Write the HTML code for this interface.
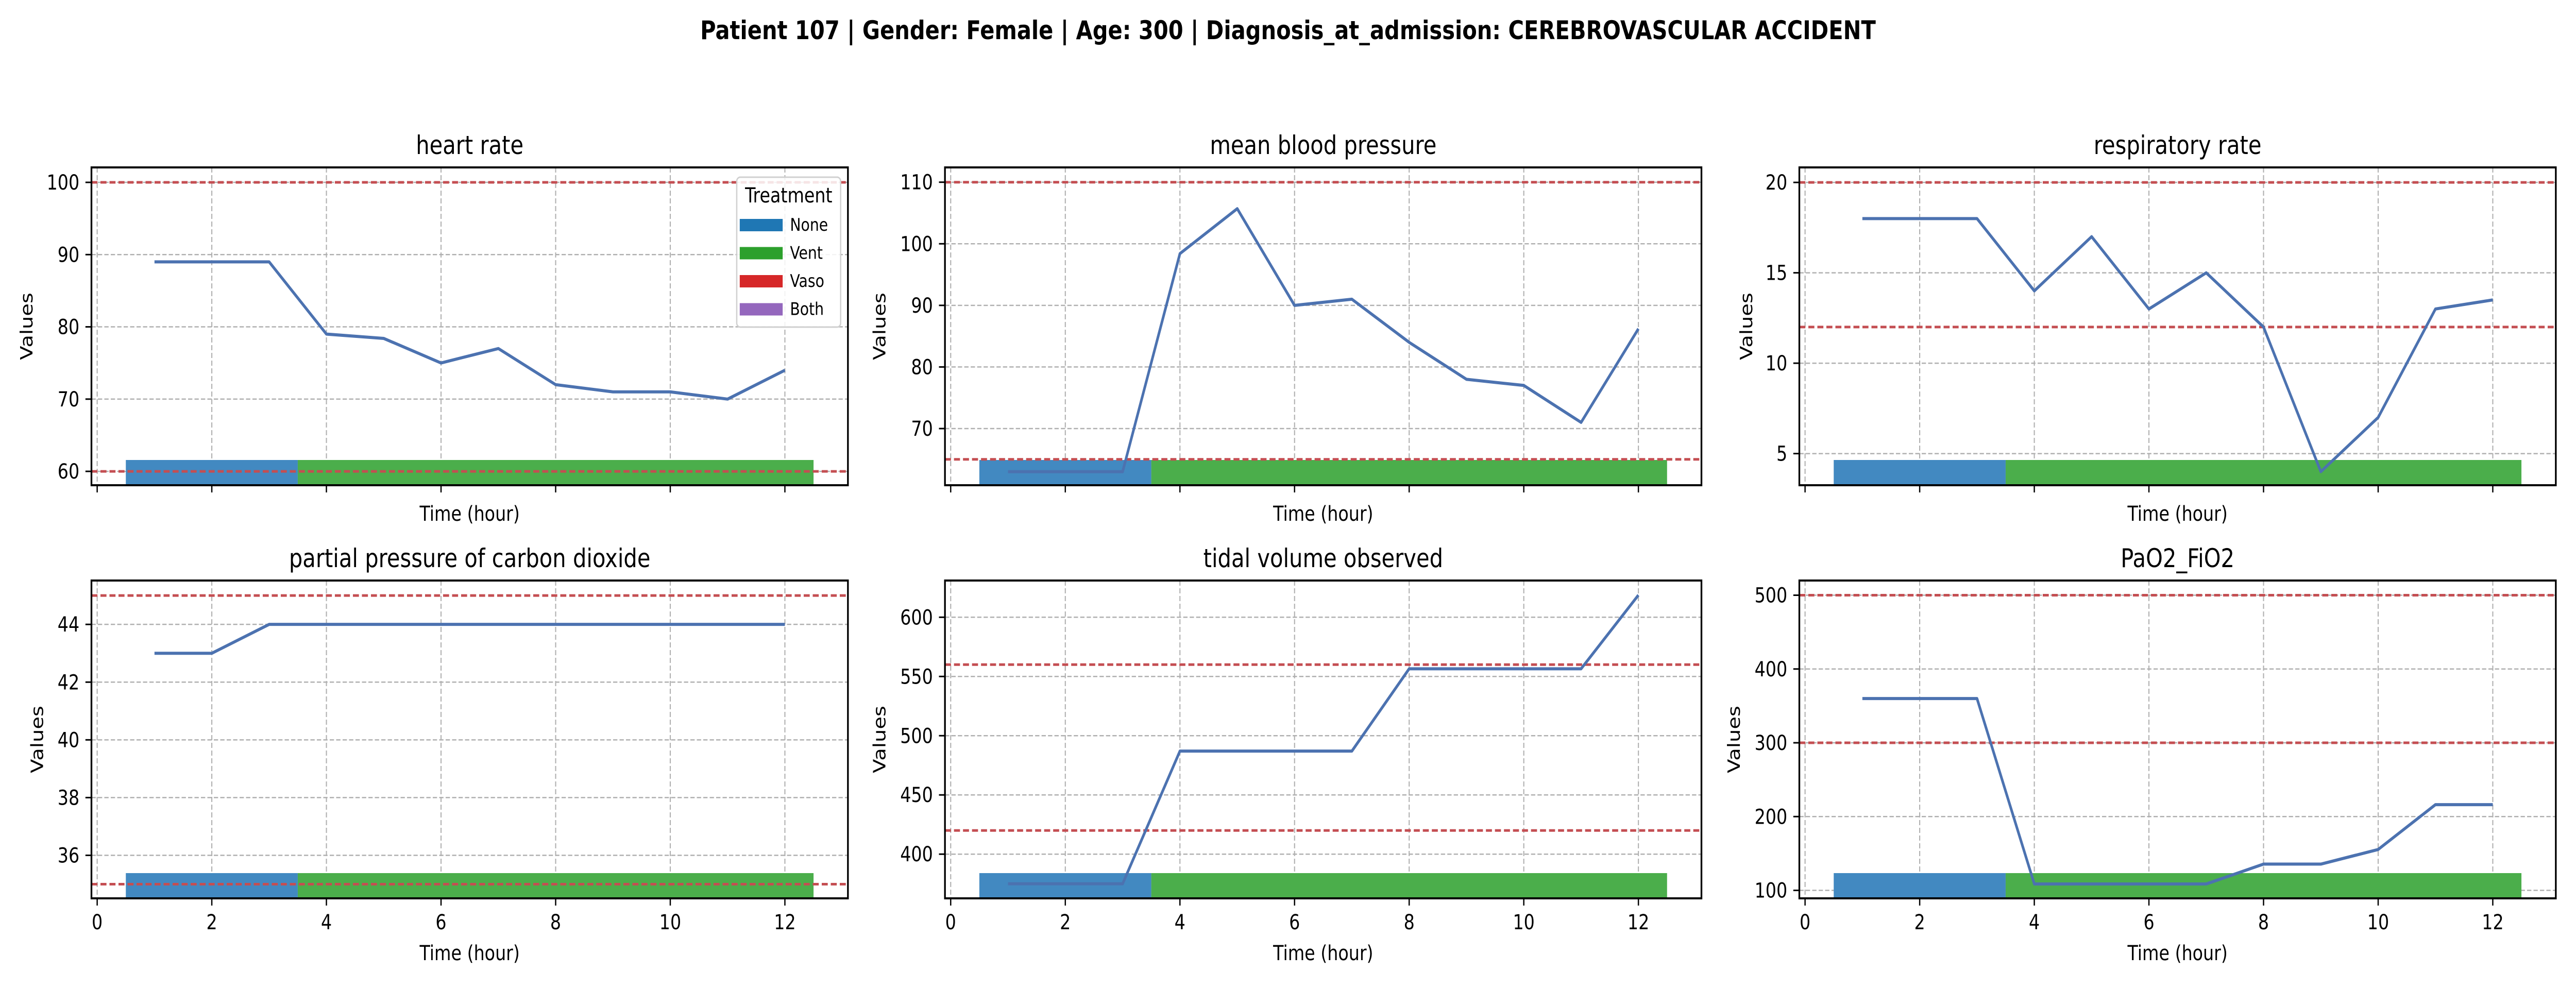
<!DOCTYPE html>
<html><head><meta charset="utf-8">
<style>
html,body{margin:0;padding:0;background:#fff;width:100%;height:100%;overflow:hidden;}
svg{display:block;width:100vw;height:100vh;font-family:"DejaVu Sans","Liberation Sans",sans-serif;}
</style></head>
<body>
<svg id="chart" viewBox="0 0 6000 1920" preserveAspectRatio="none" xmlns="http://www.w3.org/2000/svg">
<rect x="0" y="0" width="6000" height="1920" fill="#fff"/>
<text x="3000" y="76" text-anchor="middle" font-size="50" font-weight="bold" textLength="2738" lengthAdjust="spacingAndGlyphs">Patient 107 | Gender: Female | Age: 300 | Diagnosis_at_admission: CEREBROVASCULAR ACCIDENT</text>
</svg>
<script>
const hours = [1,2,3,4,5,6,7,8,9,10,11,12];
const xTicks = [0,2,4,6,8,10,12];
const titles = ["heart rate","mean blood pressure","respiratory rate","partial pressure of carbon dioxide","tidal volume observed","PaO2_FiO2"];
const hrValues = [89,89,89,79,78.4,75,77,72,71,71,70,74];
const mbpValues = [63,63,63,98.4,105.7,90,91,84,78,77,71,86.2];
const rrValues = [18,18,18,14,17,13,15,12,4,7,13,13.5];
const pco2Values = [43,43,44,44,44,44,44,44,44,44,44,44];
const tvValues = [375,375,375,487,487,487,487,556.5,556.5,556.5,556.5,618.7];
const pfValues = [360,360,360,108.7,108.7,108.7,108.7,135.6,135.6,155.4,216.2,216.2];
const hrTicks = [60,70,80,90,100];
const mbpTicks = [70,80,90,100,110];
const rrTicks = [5,10,15,20];
const pco2Ticks = [36,38,40,42,44];
const tvTicks = [400,450,500,550,600];
const pfTicks = [100,200,300,400,500];
const hrLimits = [60,100];
const mbpLimits = [65,110];
const rrLimits = [12,20];
const pco2Limits = [35,45];
const tvLimits = [420,560];
const pfLimits = [300,500];
const treatStart = [0.5,3.5];
const treatEnd = [3.5,12.5];
const treatType = ["None","Vent"];
const legendLabels = ["None","Vent","Vaso","Both"];

const legendColors = {None:"#1f77b4",Vent:"#2ca02c",Vaso:"#d62728",Both:"#9467bd"};
const barColors = {None:"#4289c1",Vent:"#4bae4b",Vaso:"#de5253",Both:"#a785ca"};
const NS = "http://www.w3.org/2000/svg";
const svg = document.getElementById('chart');
function mk(tag, attrs, parent){
  const e = document.createElementNS(NS, tag);
  for (const k in attrs) e.setAttribute(k, attrs[k]);
  (parent||svg).appendChild(e);
  return e;
}
const panels = [
  {vals:hrValues,ticks:hrTicks,lims:hrLimits,ylim:[58.08,102.07],col:0,row:0,ylx:149},
  {vals:mbpValues,ticks:mbpTicks,lims:mbpLimits,ylim:[60.8,112.4],col:1,row:0,ylx:150},
  {vals:rrValues,ticks:rrTicks,lims:rrLimits,ylim:[3.25,20.83],col:2,row:0,ylx:121},
  {vals:pco2Values,ticks:pco2Ticks,lims:pco2Limits,ylim:[34.51,45.52],col:0,row:1,ylx:124},
  {vals:tvValues,ticks:tvTicks,lims:tvLimits,ylim:[362.7,631],col:1,row:1,ylx:150},
  {vals:pfValues,ticks:pfTicks,lims:pfLimits,ylim:[89.2,519.9],col:2,row:1,ylx:150}
];
const colLeft = [213,2201,4191];
const axW = 1762;
const rowTop = [325,1127];
const axH = 617;
const xmin = -0.1, xmax = 13.1;

panels.forEach((p, i) => {
  const L = colLeft[p.col], T = rowTop[p.row], B = T + axH, R = L + axW;
  const sx = v => L + (v - xmin) / (xmax - xmin) * axW;
  const sy = v => B - (v - p.ylim[0]) / (p.ylim[1] - p.ylim[0]) * axH;
  const g = mk('g', {});
  
  
  xTicks.forEach(t => {
    const l = mk('line', {x1:sx(t),x2:sx(t),y1:T,y2:B,stroke:'#b0b0b0','stroke-width':2.5,'stroke-dasharray':'10,5'}, g);
    
    
  });
  p.ticks.forEach(t => {
    const l = mk('line', {x1:L,x2:R,y1:sy(t),y2:sy(t),stroke:'#b0b0b0','stroke-width':2.5,'stroke-dasharray':'10,5'}, g);
    
    
  });
  treatStart.forEach((s, k) => {
    const r = mk('rect', {x:sx(s), y:B-49, width:sx(treatEnd[k])-sx(s), height:47, fill:barColors[treatType[k]]}, g);
    
    
  });
  p.lims.forEach(v => {
    const l = mk('line', {x1:L,x2:R,y1:sy(v),y2:sy(v),stroke:'#c44e52','stroke-width':5,'stroke-dasharray':'14,7'}, g);
    
    
  });
  const pts = hours.map((h, k) => sx(h) + ',' + sy(p.vals[k])).join(' ');
  const pl = mk('polyline', {points:pts, fill:'none', stroke:'#4c72b0','stroke-width':6,'stroke-linejoin':'round'}, g);
  
  
  const fr = mk('rect', {x:L,y:T,width:axW,height:axH,fill:'none',stroke:'#000','stroke-width':4}, g);
  
  
  p.ticks.forEach(t => {
    mk('line', {x1:L-14,x2:L,y1:sy(t),y2:sy(t),stroke:'#000','stroke-width':3}, g);
    const tx = mk('text', {x:L-28,y:sy(t)+14,'text-anchor':'end','font-size':40}, g);
    tx.textContent = t;
    
    
  });
  xTicks.forEach(t => {
    mk('line', {x1:sx(t),x2:sx(t),y1:B,y2:B+14,stroke:'#000','stroke-width':3}, g);
    if (p.row === 1) {
      const tx = mk('text', {x:sx(t),y:B+60,'text-anchor':'middle','font-size':40}, g);
      tx.textContent = t;
      
      
    }
  });
  const xl = mk('text', {x:L+axW/2,y:p.row===0?B+69:B+120,'text-anchor':'middle','font-size':40}, g);
  xl.textContent = 'Time (hour)';
  
  
  const yx = L - p.ylx, yc = T + axH/2;
  const yl = mk('text', {x:yx,y:yc,'text-anchor':'middle','font-size':40,transform:'rotate(-90 '+yx+' '+yc+')','dominant-baseline':'middle'}, g);
  yl.textContent = 'Values';
  
  
  const ti = mk('text', {x:L+axW/2,y:T-26,'text-anchor':'middle','font-size':50}, g);
  ti.textContent = titles[i];
  
  
});

const lg = mk('g', {});


mk('rect', {x:1716,y:344,width:242,height:291,rx:8,fill:'#fff','fill-opacity':0.85,stroke:'#d0d0d0','stroke-width':3}, lg);
const lt = mk('text', {x:1837,y:393,'text-anchor':'middle','font-size':40}, lg);
lt.textContent = 'Treatment';


legendLabels.forEach((lab, k) => {
  const y = 425 + k*54.5;
  const sw = mk('rect', {x:1723,y:y,width:100,height:24,fill:legendColors[lab]}, lg);
  
  
  const tx = mk('text', {x:1840,y:y+23,'font-size':34}, lg);
  tx.textContent = lab;
  
  
});
</script>
</body></html>
